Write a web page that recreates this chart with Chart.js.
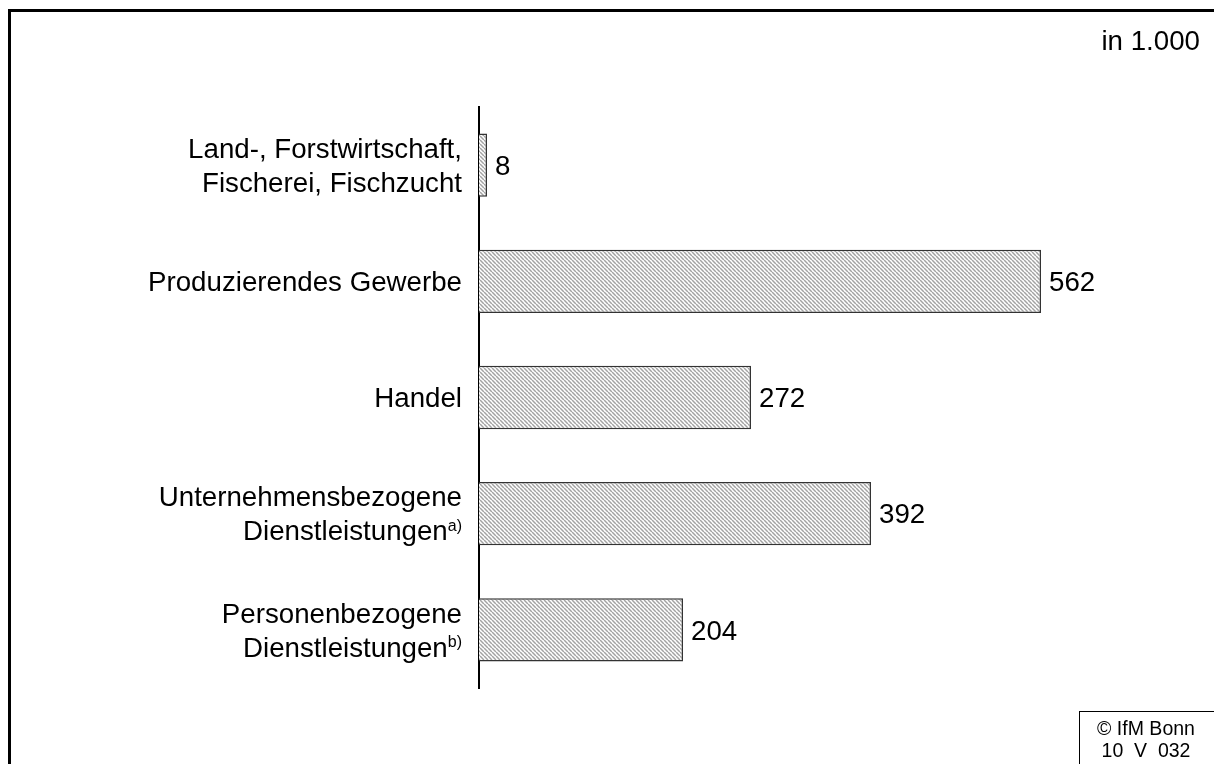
<!DOCTYPE html>
<html lang="de">
<head>
    <meta charset="UTF-8">
    <title>Unternehmen nach Wirtschaftsbereichen</title>
    <script src="https://cdn.jsdelivr.net/npm/chart.js"></script>
    <style>
        body {
            margin: 0;
            background-color: #fff;
        }
        #chart {
            display: block;
        }
    </style>
</head>
<body>
    <canvas id="chart" width="1214" height="764"></canvas>

    <script>
        // data
        const categories = [
            ['Land-, Forstwirtschaft,', 'Fischerei, Fischzucht'],
            ['Produzierendes Gewerbe'],
            ['Handel'],
            ['Unternehmensbezogene', 'Dienstleistungen'],
            ['Personenbezogene', 'Dienstleistungen']
        ];
        const footnotes = ['', '', '', 'a)', 'b)'];
        const values = [8, 562, 272, 392, 204];
        const unitLabel = 'in 1.000';
        const sourceLines = ['\u00A9 IfM Bonn', '10  V  032'];

        const FONT = 'Arial, "Liberation Sans", sans-serif';

        // hatch pattern: thin grey diagonals (top-left to bottom-right)
        function makeHatch() {
            const s = 4;
            const c = document.createElement('canvas');
            c.width = s; c.height = s;
            const g = c.getContext('2d');
            g.fillStyle = '#fff';
            g.fillRect(0, 0, s, s);
            g.strokeStyle = '#a3a3a3';
            g.lineWidth = 1.5;
            for (const o of [-s, 0, s]) {
                g.beginPath();
                g.moveTo(o, 0);
                g.lineTo(o + s, s);
                g.stroke();
            }
            return g.createPattern(c, 'repeat');
        }

        const decorations = {
            id: 'decorations',
            afterDraw(chart) {
                const ctx = chart.ctx;
                const area = chart.chartArea;
                const yScale = chart.scales.y;
                const xScale = chart.scales.x;
                ctx.save();

                // outer frame (top and left only)
                ctx.strokeStyle = '#000';
                ctx.lineWidth = 3;
                ctx.beginPath();
                ctx.moveTo(9.5, chart.height);
                ctx.lineTo(9.5, 10.5);
                ctx.lineTo(chart.width, 10.5);
                ctx.stroke();

                // category labels, right aligned, with superscript footnotes
                ctx.fillStyle = '#000';
                ctx.textBaseline = 'middle';
                const right = area.left - 17;
                const lineH = 34;
                categories.forEach((lines, i) => {
                    const cy = yScale.getPixelForValue(i) + 2;
                    const y0 = cy - (lines.length - 1) * lineH / 2;
                    lines.forEach((txt, j) => {
                        const y = y0 + j * lineH;
                        let x = right;
                        const isLast = j === lines.length - 1;
                        if (isLast && footnotes[i]) {
                            ctx.font = '16px ' + FONT;
                            ctx.textAlign = 'right';
                            ctx.fillText(footnotes[i], x, y - 6);
                            x -= ctx.measureText(footnotes[i]).width;
                        }
                        ctx.font = '27.7px ' + FONT;
                        ctx.textAlign = 'right';
                        ctx.fillText(txt, x, y);
                    });
                });

                // value labels at bar ends
                ctx.font = '27.7px ' + FONT;
                ctx.textAlign = 'left';
                values.forEach((v, i) => {
                    ctx.fillText(String(v), xScale.getPixelForValue(v) + 8, yScale.getPixelForValue(i) + 2);
                });

                // unit note
                ctx.textAlign = 'right';
                ctx.fillText(unitLabel, 1200, 42);

                // source box
                ctx.lineWidth = 1;
                ctx.strokeRect(1079.5, 711.5, 140, 60);
                ctx.font = '19.5px ' + FONT;
                ctx.textAlign = 'center';
                ctx.fillText(sourceLines[0], 1146, 730);
                ctx.fillText(sourceLines[1], 1146, 752);

                ctx.restore();
            }
        };

        const ctx = document.getElementById('chart').getContext('2d');
        new Chart(ctx, {
            type: 'bar',
            data: {
                labels: categories,
                datasets: [{
                    data: values,
                    backgroundColor: makeHatch(),
                    borderColor: '#333',
                    borderWidth: 1.5,
                    barPercentage: 0.545,
                    categoryPercentage: 1
                }]
            },
            options: {
                indexAxis: 'y',
                responsive: false,
                animation: false,
                devicePixelRatio: 1,
                layout: {
                    padding: { left: 479, top: 107, right: 35, bottom: 76 }
                },
                plugins: {
                    legend: { display: false },
                    tooltip: { enabled: false }
                },
                scales: {
                    x: {
                        display: false,
                        min: 0,
                        max: 700
                    },
                    y: {
                        ticks: { display: false },
                        grid: { display: false, drawTicks: false },
                        border: { display: true, color: '#000', width: 2 }
                    }
                }
            },
            plugins: [decorations]
        });
    </script>
</body>
</html>
